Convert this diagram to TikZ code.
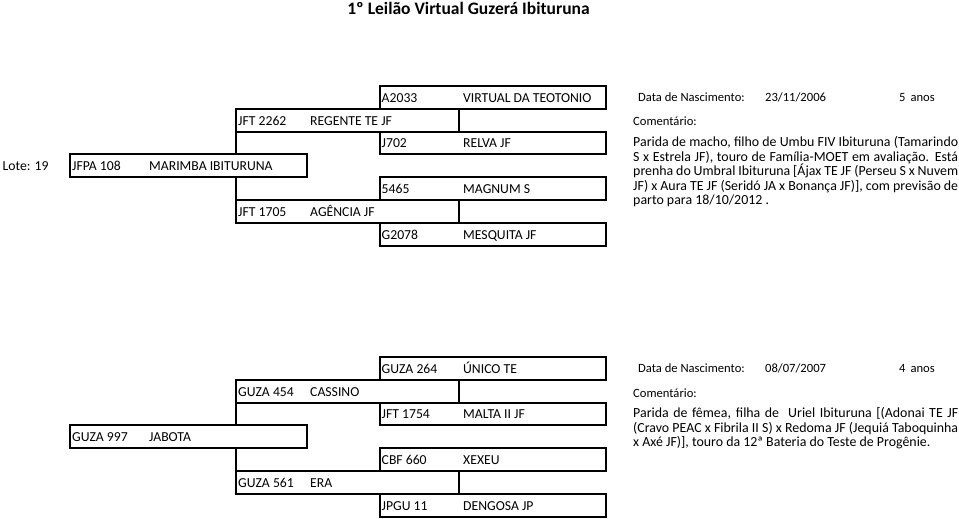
\documentclass[tikz,border=0pt]{standalone}
\usepackage{fontspec}
\setmainfont{Carlito}

\begin{document}
\begin{tikzpicture}[x=1pt, y=-1pt,
  cellbox/.style={draw, line width=2pt, inner sep=0pt, outer sep=0pt, anchor=north west, minimum height=22.8pt},
  lotbox/.style={cellbox, minimum width=237pt},
  parentbox/.style={cellbox, minimum width=223pt},
  gpbox/.style={cellbox, minimum width=226pt},
  link/.style={line width=2pt},
  cell/.style={anchor=base west, inner sep=0pt, font=\fontsize{13.7}{16}\selectfont},
  info/.style={anchor=base west, inner sep=0pt, font=\fontsize{12.6}{15}\selectfont},
  para/.style={anchor=base west, inner sep=0pt, font=\fontsize{13.9}{15}\selectfont}]

\useasboundingbox (0,0) rectangle (959,519);

\node[anchor=base, inner sep=0pt, font=\fontsize{17.5}{20}\bfseries] (title) at (468.5,15) {1º Leilão Virtual Guzerá Ibituruna};

% lote 19
\node[cell] (lote) at (2.5,170.7) {Lote: 19};

\node[lotbox] (lotA) at (70,154.4) {};
\node[cell] (lotAcode) at (72,170.7) {JFPA 108};
\node[cell] (lotAname) at (149,170.7) {MARIMBA IBITURUNA};

\node[parentbox] (sireA) at (236,108.8) {};
\node[cell] (sireAcode) at (238,125.1) {JFT 2262};
\node[cell] (sireAname) at (310,125.1) {REGENTE TE JF};

\node[parentbox] (damA) at (236,200) {};
\node[cell] (damAcode) at (238,216.3) {JFT 1705};
\node[cell] (damAname) at (310,216.3) {AGÊNCIA JF};

\node[gpbox] (ssA) at (380,86) {};
\node[cell] (ssAcode) at (381.5,102.3) {A2033};
\node[cell] (ssAname) at (463,102.3) {VIRTUAL DA TEOTONIO};

\node[gpbox] (sdA) at (380,131.6) {};
\node[cell] (sdAcode) at (381.5,147.9) {J702};
\node[cell] (sdAname) at (463,147.9) {RELVA JF};

\node[gpbox] (dsA) at (380,177.2) {};
\node[cell] (dsAcode) at (381.5,193.5) {5465};
\node[cell] (dsAname) at (463,193.5) {MAGNUM S};

\node[gpbox] (ddA) at (380,222.8) {};
\node[cell] (ddAcode) at (381.5,239.1) {G2078};
\node[cell] (ddAname) at (463,239.1) {MESQUITA JF};

\draw[link] (lotA.north -| sireA.south west) -- (sireA.south west);
\draw[link] (lotA.south -| damA.north west) -- (damA.north west);

\node[info] (birthA) at (638,101) {Data de Nascimento:};
\node[info] (dateA) at (765,101) {23/11/2006};
\node[info] (ageA) at (899,101) {5\hspace{5pt}anos};
\node[info] (comA) at (633,125.7) {Comentário:};
\node[para] (pA1) at (633,146.7) {\makebox[325pt][s]{Parida de macho, filho de Umbu FIV Ibituruna (Tamarindo}};
\node[para] (pA2) at (633,161.2) {\makebox[325pt][s]{S x Estrela JF), touro de Família-MOET em avaliação. Está}};
\node[para] (pA3) at (633,175.7) {\makebox[325pt][s]{prenha do Umbral Ibituruna [Ájax TE JF (Perseu S x Nuvem}};
\node[para] (pA4) at (633,190.2) {\makebox[325pt][s]{JF) x Aura TE JF (Seridó JA x Bonança JF)], com previsão de}};
\node[para] (pA5) at (633,204.7) {parto para 18/10/2012 .};

% second animal
\begin{scope}[yshift=-271pt]
\node[lotbox] (lotB) at (70,154.4) {};
\node[cell] (lotBcode) at (72,170.7) {GUZA 997};
\node[cell] (lotBname) at (149,170.7) {JABOTA};

\node[parentbox] (sireB) at (236,108.8) {};
\node[cell] (sireBcode) at (238,125.1) {GUZA 454};
\node[cell] (sireBname) at (310,125.1) {CASSINO};

\node[parentbox] (damB) at (236,200) {};
\node[cell] (damBcode) at (238,216.3) {GUZA 561};
\node[cell] (damBname) at (310,216.3) {ERA};

\node[gpbox] (ssB) at (380,86) {};
\node[cell] (ssBcode) at (381.5,102.3) {GUZA 264};
\node[cell] (ssBname) at (463,102.3) {ÚNICO TE};

\node[gpbox] (sdB) at (380,131.6) {};
\node[cell] (sdBcode) at (381.5,147.9) {JFT 1754};
\node[cell] (sdBname) at (463,147.9) {MALTA II JF};

\node[gpbox] (dsB) at (380,177.2) {};
\node[cell] (dsBcode) at (381.5,193.5) {CBF 660};
\node[cell] (dsBname) at (463,193.5) {XEXEU};

\node[gpbox] (ddB) at (380,222.8) {};
\node[cell] (ddBcode) at (381.5,239.1) {JPGU 11};
\node[cell] (ddBname) at (463,239.1) {DENGOSA JP};

\draw[link] (lotB.north -| sireB.south west) -- (sireB.south west);
\draw[link] (lotB.south -| damB.north west) -- (damB.north west);

\node[info] (birthB) at (638,101.7) {Data de Nascimento:};
\node[info] (dateB) at (765,101.7) {08/07/2007};
\node[info] (ageB) at (899,101.7) {4\hspace{5pt}anos};
\node[info] (comB) at (633,126.7) {Comentário:};
\node[para] (pB1) at (633,146.5) {\makebox[325pt][s]{Parida de fêmea, filha de\ \ Uriel Ibituruna [(Adonai TE JF}};
\node[para] (pB2) at (633,161) {\makebox[325pt][s]{(Cravo PEAC x Fibrila II S) x Redoma JF (Jequiá Taboquinha}};
\node[para] (pB3) at (633,175.5) {x Axé JF)], touro da 12ª Bateria do Teste de Progênie.};
\end{scope}
\end{tikzpicture}
\end{document}
